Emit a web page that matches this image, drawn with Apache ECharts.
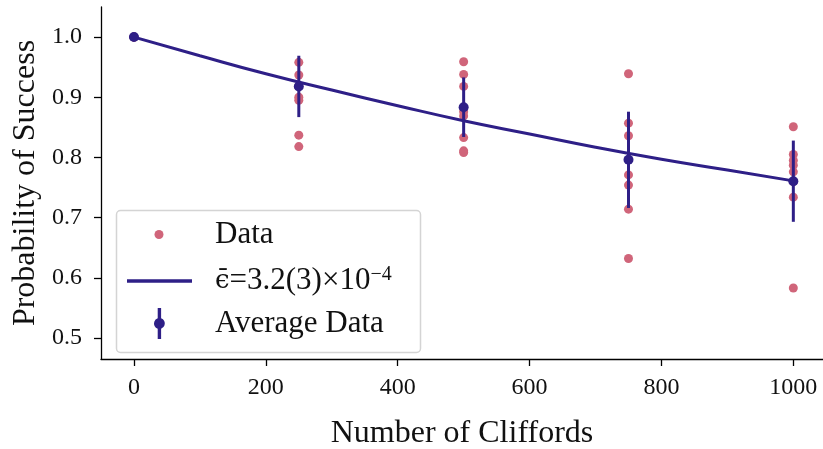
<!DOCTYPE html>
<html>
<head>
<meta charset="utf-8">
<script src="https://cdn.jsdelivr.net/npm/echarts@6/dist/echarts.min.js"></script>
<style>
	html, body { margin: 0; padding: 0; background: #fff; }
	#echarts_div { width: 823px; height: 449px; }
</style>
</head>
<body>
<div id="echarts_div"></div>
<script>
// sequence lengths (number of Cliffords)
var seqLengths = [0, 250, 500, 750, 1000];
// individual runs at each length
var shotsAt0 = [1.0, 1.0, 1.0];
var shotsAt250 = [0.958, 0.937, 0.918, 0.900, 0.895, 0.837, 0.818];
var shotsAt500 = [0.959, 0.938, 0.918, 0.876, 0.869, 0.833, 0.811, 0.808];
var shotsAt750 = [0.939, 0.857, 0.836, 0.771, 0.754, 0.714, 0.632];
var shotsAt1000 = [0.851, 0.805, 0.795, 0.787, 0.776, 0.760, 0.734, 0.583];
// averages and their error bars
var avgValues = [1.0, 0.918, 0.8835, 0.796, 0.7605];
var avgErrors = [0, 0.051, 0.0495, 0.080, 0.0675];
// fitted decay curve
var fitX = [0, 100, 200, 300, 400, 500, 600, 700, 800, 900, 1000];
var fitY = [1.0, 0.969, 0.939, 0.912, 0.886, 0.861, 0.839, 0.817, 0.797, 0.779, 0.761];
// tick labels
var xTicks = [0, 200, 400, 600, 800, 1000];
var yTicks = [0.5, 0.6, 0.7, 0.8, 0.9, 1.0];

var pink = '#d0657a';
var navy = '#2e1f87';
var serif = '"Liberation Serif", "DejaVu Serif", serif';
var nameSize = 32;
var tickSize = 24;

function createChart() {
	var myChart = echarts.init(document.getElementById('echarts_div'));

	// 把每个长度的散点展开
	var shotLists = [shotsAt0, shotsAt250, shotsAt500, shotsAt750, shotsAt1000];
	var scatterData = [];
	for (var i = 0; i < seqLengths.length; i++) {
		for (var j = 0; j < shotLists[i].length; j++) {
			scatterData.push([seqLengths[i], shotLists[i][j]]);
		}
	}
	var fitData = [];
	for (var k = 0; k < fitX.length; k++) {
		fitData.push([fitX[k], fitY[k]]);
	}
	var avgData = [];
	var barData = [];
	for (var m = 0; m < seqLengths.length; m++) {
		avgData.push([seqLengths[m], avgValues[m]]);
		barData.push([seqLengths[m], avgValues[m] - avgErrors[m], avgValues[m] + avgErrors[m]]);
	}

	var legendText = { fontFamily: serif, fontSize: 31, color: '#111' };

	var option = {
		animation: false,
		grid: { left: 101, right: 0, top: 7, bottom: 90, outerBoundsMode: 'none', containLabel: false },
		graphic: [{
			type: 'rect',
			z: 3,
			shape: { x: 116.5, y: 210.5, width: 304, height: 142, r: 4 },
			style: { fill: 'rgba(255,255,255,0.8)', stroke: '#d4d4d4', lineWidth: 1.5 }
		}],
		legend: [{
			data: ['Data'],
			left: 154.5, top: 219, padding: 0,
			itemWidth: 9, itemHeight: 9,
			icon: 'circle',
			itemStyle: { color: pink },
			formatter: function (n) { return '{t|' + n + '}'; },
			textStyle: { padding: [0, 0, 0, 46.5], rich: { t: legendText } }
		}, {
			data: ['fit'],
			left: 127, top: 265, padding: 0,
			itemWidth: 65, itemHeight: 3.5,
			icon: 'rect',
			itemStyle: { color: navy },
			formatter: function () {
				return '{e|\u03F5\u0304}{t|=3.2(3)\u00D710}{s|\u22124}';
			},
			textStyle: {
				padding: [0, 0, 0, 18],
				rich: {
					e: { fontFamily: '"DejaVu Serif"', fontSize: 26, color: '#111' },
					t: legendText,
					s: { fontFamily: serif, fontSize: 20, color: '#111', verticalAlign: 'top', padding: [0, 0, 12, 0] }
				}
			}
		}, {
			data: ['Average Data'],
			left: 154, top: 308, padding: 0,
			itemWidth: 11, itemHeight: 31,
			icon: 'path://M-1.7,-15.5 L1.7,-15.5 L1.7,-5.2 A5.5,5.5 0 0 1 1.7,5.2 L1.7,15.5 L-1.7,15.5 L-1.7,5.2 A5.5,5.5 0 0 1 -1.7,-5.2 Z',
			itemStyle: { color: navy },
			formatter: function (n) { return '{t|' + n + '}'; },
			textStyle: { padding: [0, 0, 0, 45], rich: { t: legendText } }
		}],
		xAxis: {
			type: 'value',
			min: -50, max: 1045,
			name: 'Number of Cliffords',
			nameLocation: 'middle',
			nameGap: 59,
			nameTextStyle: { fontFamily: serif, fontSize: nameSize, color: '#111' },
			axisLine: { onZero: false, lineStyle: { color: '#000', width: 1.3 } },
			axisTick: { customValues: xTicks, length: 7, lineStyle: { color: '#000', width: 1.3 } },
			axisLabel: {
				customValues: xTicks, margin: 17,
				fontFamily: serif, fontSize: tickSize, color: '#111',
				formatter: function (v) { return String(v); }
			},
			splitLine: { show: false }
		},
		yAxis: {
			type: 'value',
			min: 0.465, max: 1.05,
			name: 'Probability of Success',
			nameLocation: 'middle',
			nameGap: 57,
			nameTextStyle: { fontFamily: serif, fontSize: nameSize, color: '#111' },
			axisLine: { show: true, onZero: false, lineStyle: { color: '#000', width: 1.3 } },
			axisTick: { show: true, customValues: yTicks, length: 7, lineStyle: { color: '#000', width: 1.3 } },
			axisLabel: {
				customValues: yTicks, margin: 19,
				fontFamily: serif, fontSize: tickSize, color: '#111',
				formatter: function (v) { return v.toFixed(1); }
			},
			splitLine: { show: false }
		},
		series: [{
			name: 'Data',
			type: 'scatter',
			z: 2,
			symbolSize: 9,
			itemStyle: { color: pink, opacity: 1 },
			data: scatterData
		}, {
			name: 'fit',
			type: 'line',
			z: 3,
			smooth: true,
			showSymbol: false,
			lineStyle: { color: navy, width: 3 },
			itemStyle: { color: navy },
			data: fitData
		}, {
			name: 'Average Data',
			type: 'custom',
			z: 4,
			renderItem: function (params, api) {
				var x = api.value(0);
				var lo = api.coord([x, api.value(1)]);
				var hi = api.coord([x, api.value(2)]);
				return {
					type: 'line',
					shape: { x1: lo[0], y1: lo[1], x2: hi[0], y2: hi[1] },
					style: { stroke: navy, lineWidth: 3 }
				};
			},
			encode: { x: 0, y: [1, 2] },
			data: barData
		}, {
			name: 'Average Data',
			type: 'scatter',
			z: 5,
			symbolSize: 10,
			itemStyle: { color: navy, opacity: 1 },
			data: avgData
		}]
	};

	myChart.setOption(option);
}

createChart();
</script>
</body>
</html>
